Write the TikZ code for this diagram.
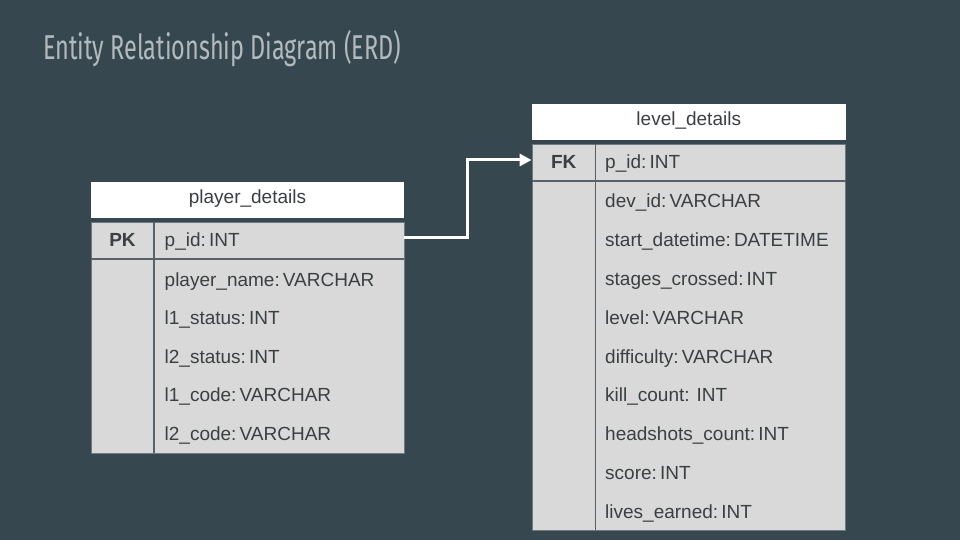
\documentclass[tikz,border=0pt]{standalone}
\usepackage{fontspec}
\usepackage{graphicx}
\setmainfont{Liberation Sans}
\newfontfamily\titlefont{Fira Sans}
\usetikzlibrary{arrows.meta}
\definecolor{bgc}{HTML}{37474F}
\definecolor{titlec}{HTML}{B3BABE}
\definecolor{cellc}{HTML}{D9D9D9}
\definecolor{txtc}{HTML}{3A3F42}
\definecolor{edgec}{HTML}{6E7A80}
\definecolor{sepc}{HTML}{56636A}
\tikzset{
  hdr/.style={draw=none, fill=white, inner sep=0pt, text=txtc},
  bodybox/.style={draw=edgec, fill=cellc, line width=0.8pt, inner sep=0pt},
  fld/.style={anchor=base west, inner sep=0pt, text=txtc, font=\fontsize{19}{21}\selectfont},
  keyl/.style={anchor=base, inner sep=0pt, text=txtc, font=\fontsize{19}{21}\selectfont\bfseries},
  hdrt/.style={anchor=base, inner sep=0pt, text=txtc, font=\fontsize{19}{21}\selectfont},
  sepl/.style={draw=sepc, line width=1.2pt},
  conn/.style={draw=white, line width=3pt, -{Triangle[length=12pt,width=12pt]}}
}
\begin{document}
\begin{tikzpicture}[x=1pt,y=-1pt]
\fill[bgc] (0,0) rectangle (960,540);
\useasboundingbox (0,0) rectangle (960,540);
% title
\node[anchor=base west, inner sep=0pt, text=titlec] (title) at (43,60)
  {\resizebox{358pt}{\height}{\titlefont\fontsize{34.5}{36}\selectfont Entity Relationship Diagram (ERD)}};

% player_details
\node[hdr, minimum width=313pt, minimum height=36pt] (phdr) at (247.5,200) {};
\node[hdrt] (phdrt) at (247.5,203.3) {player\_details};
\node[bodybox, minimum width=313pt, minimum height=231pt] (pbody) at (247.5,337.5) {};
\draw[sepl] (154,222) -- (154,453);
\draw[sepl] (91,259) -- (404,259);
\node[keyl] (pk) at (122.5,246.7) {PK};
\node[fld] (p1) at (164.5,246.7) {p\_id:\,INT};
\node[fld] (p2) at (164.5,286) {player\_name:\,VARCHAR};
\node[fld] (p3) at (164.5,324.7) {l1\_status:\,INT};
\node[fld] (p4) at (164.5,363.3) {l2\_status:\,INT};
\node[fld] (p5) at (164.5,401.7) {l1\_code:\,VARCHAR};
\node[fld] (p6) at (164.5,440.3) {l2\_code:\,VARCHAR};

% level_details
\node[hdr, minimum width=313.5pt, minimum height=36.5pt] (lhdr) at (688.75,122.25) {};
\node[hdrt] (lhdrt) at (688.75,125.3) {level\_details};
\node[bodybox, minimum width=313.5pt, minimum height=386pt] (lbody) at (688.75,337) {};
\draw[sepl] (595.5,144) -- (595.5,530);
\draw[sepl] (532,181) -- (845.5,181);
\node[keyl] (fk) at (563.75,169) {FK};
\node[fld] (l1) at (605,169) {p\_id:\,INT};
\node[fld] (l2) at (605,207.8) {dev\_id:\,VARCHAR};
\node[fld] (l3) at (605,246.6) {start\_datetime:\,DATETIME};
\node[fld] (l4) at (605,285.4) {stages\_crossed:\,INT};
\node[fld] (l5) at (605,324.2) {level:\,VARCHAR};
\node[fld] (l6) at (605,363) {difficulty:\,VARCHAR};
\node[fld] (l7) at (605,401.8) {kill\_count: INT};
\node[fld] (l8) at (605,440.6) {headshots\_count:\,INT};
\node[fld] (l9) at (605,479.4) {score:\,INT};
\node[fld] (l10) at (605,518.2) {lives\_earned:\,INT};

% connector
\coordinate (src) at (pbody.east |- 0,237);
\coordinate (dst) at (lbody.west |- 0,160);
\draw[conn] (src) -- ++(63,0) |- (dst);
\end{tikzpicture}
\end{document}
